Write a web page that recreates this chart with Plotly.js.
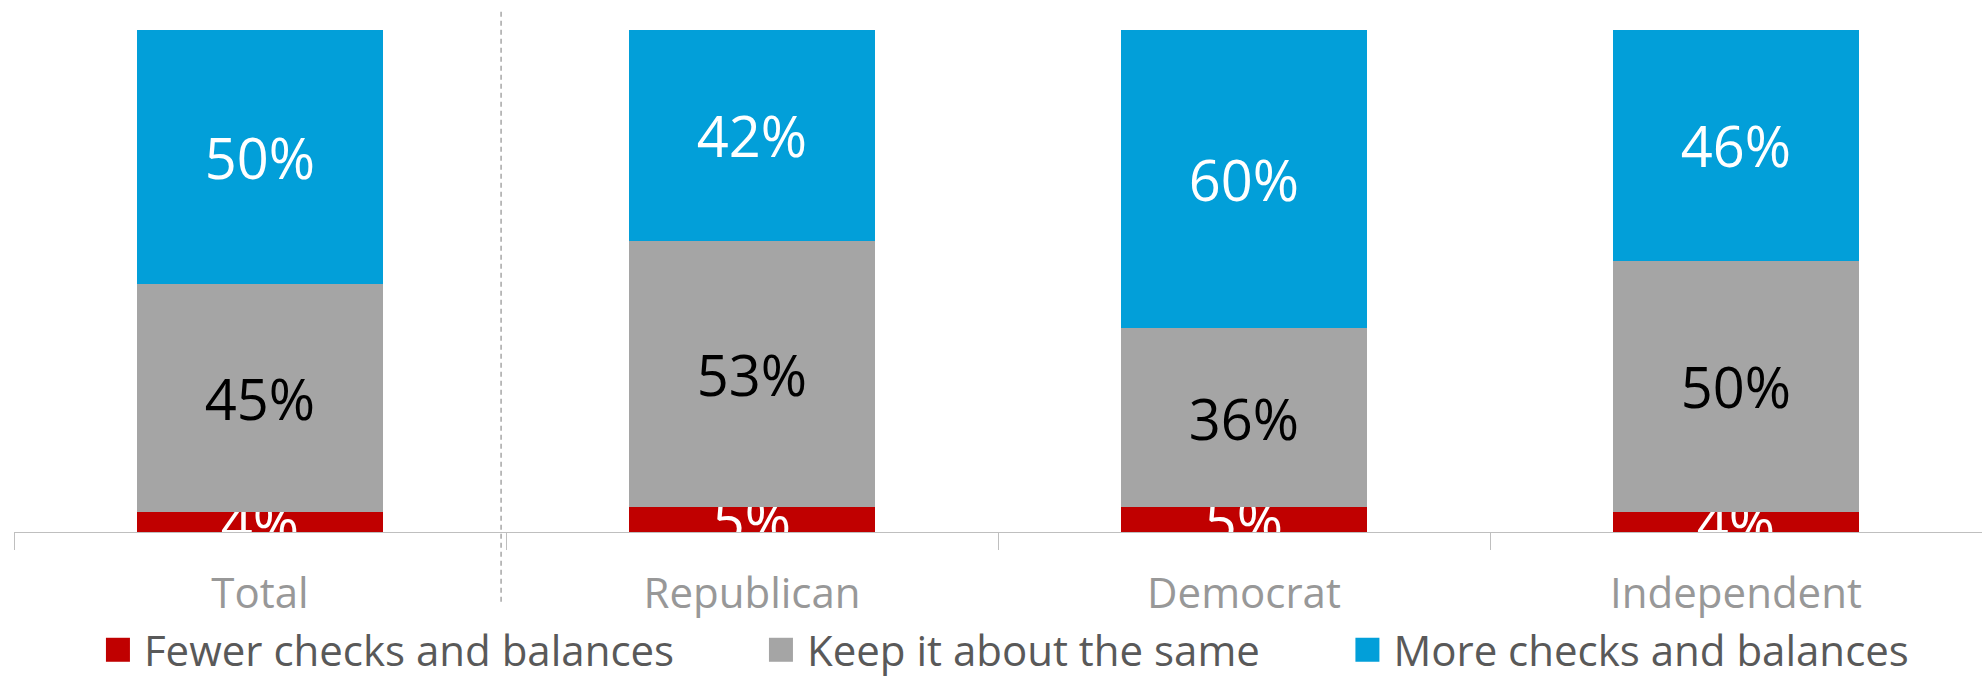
<!DOCTYPE html>
<html>
<head>
<meta charset="utf-8">
<script src="https://cdn.plot.ly/plotly-3.0.1.min.js"></script>
<style>
  html, body { margin: 0; padding: 0; background: #ffffff; }
  #chart { width: 1982px; height: 678px; }
</style>
</head>
<body>
<div id="chart"></div>
<script>
// ---- data ----
const categories = ["Total", "Republican", "Democrat", "Independent"];
const seriesNames = ["Fewer checks and balances", "Keep it about the same", "More checks and balances"];
const fewer = [4, 5, 5, 4];
const same = [45, 53, 36, 50];
const more = [50, 42, 60, 46];

const colors = ["#C00000", "#A5A5A5", "#029FD9"];
const labelColors = ["#FFFFFF", "#000000", "#FFFFFF"];
const legendIds = ["legend", "legend2", "legend3"];

const FONT = "'Open Sans', 'Noto Sans', sans-serif";

const seriesValues = [fewer, same, more];
const traces = seriesValues.map((vals, i) => ({
  type: "bar",
  name: seriesNames[i],
  x: categories,
  y: vals,
  marker: { color: colors[i], line: { width: 0 } },
  text: vals.map(v => v + "%"),
  textposition: "inside",
  insidetextanchor: "middle",
  textangle: 0,
  constraintext: "none",
  textfont: { family: FONT, size: 56, color: labelColors[i] },
  hoverinfo: "skip",
  legend: legendIds[i],
  cliponaxis: true
}));

function makeLegend(x) {
  return {
    orientation: "h",
    x: x, xanchor: "left",
    y: -0.235, yanchor: "middle",
    font: { family: FONT, size: 42, color: "#595959" },
    bgcolor: "rgba(0,0,0,0)",
    borderwidth: 0,
    traceorder: "normal"
  };
}

const layout = {
  width: 1982,
  height: 678,
  margin: { l: 14, r: 0, t: 30, b: 146, pad: 0, autoexpand: false },
  paper_bgcolor: "#FFFFFF",
  plot_bgcolor: "#FFFFFF",
  barmode: "stack",
  barnorm: "percent",
  bargap: 0.5,
  showlegend: true,
  legend: makeLegend(0.0457),
  legend2: makeLegend(0.3826),
  legend3: makeLegend(0.6806),
  xaxis: {
    type: "category",
    tickson: "boundaries",
    ticks: "outside",
    ticklen: 17,
    tickwidth: 1,
    tickcolor: "#BFBFBF",
    showline: true,
    linecolor: "#BFBFBF",
    linewidth: 1,
    showgrid: false,
    zeroline: false,
    ticklabelstandoff: 25,
    tickfont: { family: FONT, size: 42, color: "#989898" },
    fixedrange: true
  },
  yaxis: {
    range: [0, 100],
    showgrid: false,
    zeroline: false,
    showline: false,
    showticklabels: false,
    ticks: "",
    fixedrange: true
  },
  shapes: [{
    type: "line",
    xref: "paper", yref: "paper",
    x0: 0.2475, x1: 0.2475,
    y0: -0.139, y1: 1.04,
    line: { color: "#A6A6A6", width: 1.5, dash: "5px,4px" },
    layer: "above"
  }]
};

function enlargeSwatches() {
  document.querySelectorAll(".legendpoints path").forEach(p => {
    p.setAttribute("d", "M6,12H-18V-12H6Z");
  });
}

const gd = document.getElementById("chart");
Plotly.newPlot(gd, traces, layout, { displayModeBar: false, staticPlot: true }).then(() => {
  enlargeSwatches();
  gd.on("plotly_afterplot", enlargeSwatches);
  setTimeout(enlargeSwatches, 50);
});
</script>
</body>
</html>
